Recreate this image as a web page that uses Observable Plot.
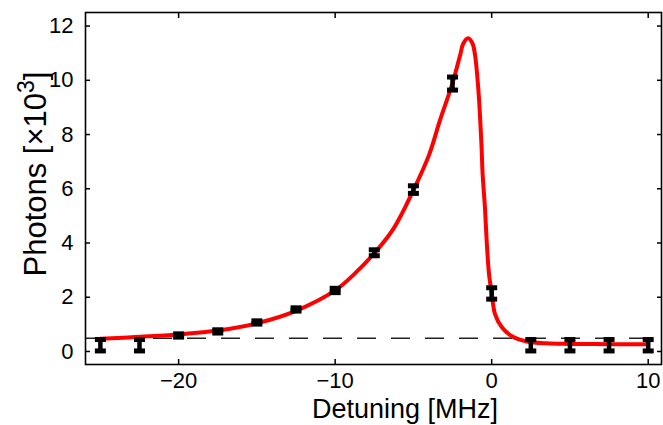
<!DOCTYPE html>
<html><head><meta charset="utf-8">
<script src="https://cdn.jsdelivr.net/npm/d3@7"></script>
<script src="https://cdn.jsdelivr.net/npm/@observablehq/plot@0.6"></script>
<style>html,body{margin:0;padding:0;background:#fff} svg{display:block}</style>
</head><body><div id="chart"></div>
<script>
// Measured data points (photons in units of 10^3)
const detuning = [-25, -22.5, -20, -17.5, -15, -12.5, -10, -7.5, -5, -2.5, 0, 2.5, 5, 7.5, 10];
const photons  = [0.23, 0.23, 0.59, 0.74, 1.07, 1.55, 2.25, 3.64, 5.97, 9.88, 2.14, 0.23, 0.23, 0.23, 0.23];
const errors   = [0.21, 0.21, 0.06, 0.06, 0.06, 0.06, 0.08, 0.11, 0.14, 0.24, 0.21, 0.21, 0.21, 0.21, 0.21];

// Fitted curve
const fitX = [-25, -22.5, -20, -17.5, -15, -12.5, -10, -8.75, -7.5, -6.25, -5, -4, -3.31, -2.5, -2, -1.82, -1.5, -1.22, -1.07, -0.86, -0.65, -0.58, -0.43, -0.32, -0.17, 0, 0.21, 0.64, 1.38, 2.24, 3.5, 5, 7.5, 10];
const fitY = [0.47, 0.54, 0.63, 0.77, 1.04, 1.5, 2.25, 2.87, 3.62, 4.55, 5.95, 7.25, 8.51, 9.9, 10.96, 11.35, 11.55, 11.35, 10.96, 9.73, 7.6, 6.56, 5.31, 4.09, 2.86, 2.15, 1.39, 0.9, 0.53, 0.37, 0.3, 0.28, 0.27, 0.27];

// Dashed background level
const background = [0.49];

// Ticks and labels
const xTicks = [-20, -10, 0, 10];
const yTicks = [0, 2, 4, 6, 8, 10, 12];
const xLabel = "Detuning [MHz]";
const yLabelMain = "Photons [\u00d710";
const yLabelSup = "3";
const yLabelEnd = "]";

const points = detuning.map((x, i) => ({x, y: photons[i], lo: photons[i] - errors[i], hi: photons[i] + errors[i]}));
const fit = fitX.map((x, i) => ({x, y: fitY[i]}));

const capSymbol = {draw(ctx) { ctx.moveTo(-5.5, -2.5); ctx.lineTo(5.5, -2.5); ctx.lineTo(5.5, 2.5); ctx.lineTo(-5.5, 2.5); ctx.closePath(); }};
const fmt = d => d < 0 ? "\u2212" + (-d) : String(d);

const plot = Plot.plot({
  width: 663, height: 425,
  marginLeft: 85, marginTop: 12, marginRight: 2, marginBottom: 61,
  style: {fontFamily: "'Liberation Sans', Arial, sans-serif", fontSize: "22px", color: "#000", background: "#fff", overflow: "visible"},
  x: {domain: [-25.95, 10.85]},
  y: {domain: [-0.48, 12.5]},
  marks: [
    Plot.ruleY(background, {stroke: "#222", strokeWidth: 1.5, strokeDasharray: "19,15"}),
    Plot.line(fit, {x: "x", y: "y", stroke: "#ff0000", strokeWidth: 4, curve: "catmull-rom"}),
    Plot.ruleX(points, {x: "x", y1: "lo", y2: "hi", stroke: "#000", strokeWidth: 4.5}),
    Plot.dot(points, {x: "x", y: "lo", symbol: capSymbol, fill: "#000", stroke: "none"}),
    Plot.dot(points, {x: "x", y: "hi", symbol: capSymbol, fill: "#000", stroke: "none"}),
    Plot.frame({stroke: "#000", strokeWidth: 1.6}),
    Plot.axisX(xTicks, {anchor: "bottom", tickSize: -5, tickPadding: 13, tickFormat: fmt, label: null, strokeWidth: 1.5}),
    Plot.axisX(xTicks, {anchor: "top", tickSize: -5, tickFormat: () => "", label: null, strokeWidth: 1.5}),
    Plot.axisY(yTicks, {anchor: "left", tickSize: -5, tickPadding: 17, tickFormat: fmt, label: null, strokeWidth: 1.5}),
    Plot.axisY(yTicks, {anchor: "right", tickSize: -5, tickFormat: () => "", label: null, strokeWidth: 1.5})
  ]
});

const svg = d3.select(plot);
svg.append("text")
  .attr("x", 405).attr("y", 418)
  .attr("text-anchor", "middle")
  .attr("font-size", 27).attr("fill", "#000")
  .text(xLabel);
const yl = svg.append("text")
  .attr("transform", "translate(46,174) rotate(-90)")
  .attr("text-anchor", "middle")
  .attr("font-size", 31).attr("fill", "#000");
yl.append("tspan").text(yLabelMain);
yl.append("tspan").attr("dy", -12).attr("font-size", 23).text(yLabelSup);
yl.append("tspan").attr("dy", 12).text(yLabelEnd);

document.getElementById("chart").appendChild(plot);
</script>
</body></html>
